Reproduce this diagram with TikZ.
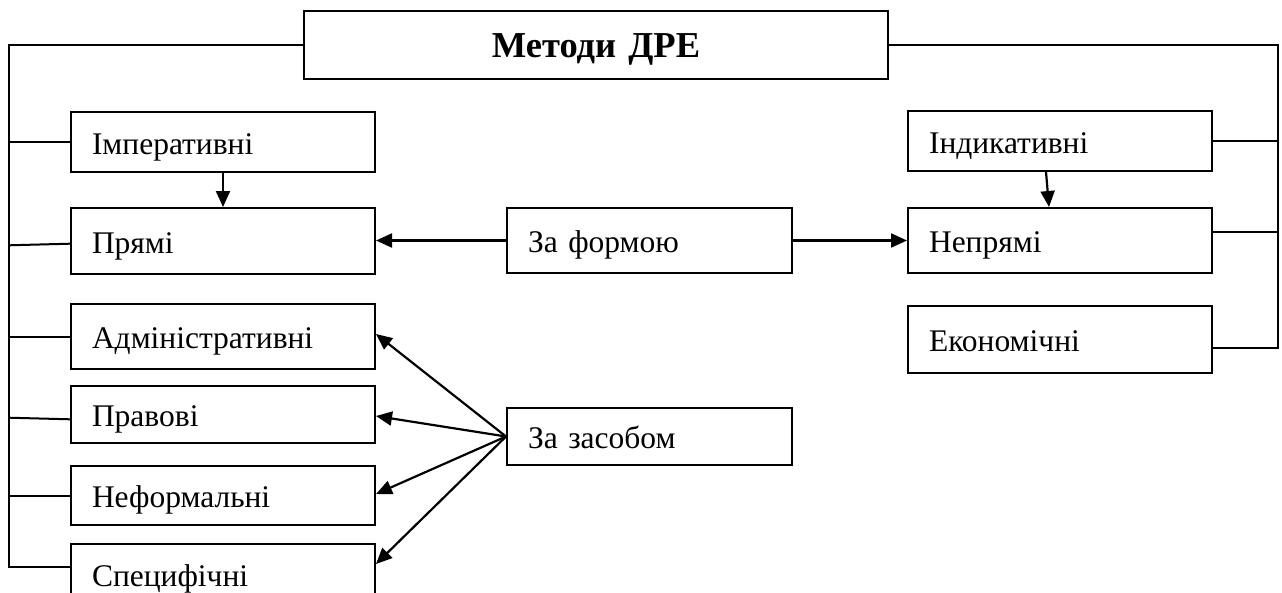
\documentclass[tikz,border=0pt]{standalone}
\usepackage{fontspec}
\setmainfont{Liberation Serif}
\usetikzlibrary{arrows.meta,calc}
\newcommand{\mytightsp}{\spaceskip=0.2em\relax}
\begin{document}
\begin{tikzpicture}[x=1pt,y=-1pt,
  box/.style={draw, line width=2pt, rectangle, anchor=north west,
    minimum width=304pt, text width=262pt, inner xsep=21pt, inner ysep=0pt,
    align=left, font=\fontsize{31.5}{36}\selectfont\mytightsp, text height=27pt, text depth=3pt},
  sbox/.style={box, minimum width=285pt, text width=243pt},
  tbox/.style={box, minimum width=584pt, text width=584pt, inner xsep=0pt, align=center,
    font=\fontsize{36.5}{40}\selectfont\bfseries\mytightsp, text height=30pt, text depth=6pt},
  wire/.style={line width=2pt},
  arr/.style={line width=2.2pt, -{Triangle[length=16pt,width=14pt]}}
]
\useasboundingbox[fill=white] (0,0) rectangle (1282,592);
% nodes
\node[tbox, minimum height=68pt] (title) at (303,10) {Методи ДРЕ};
\node[box, minimum height=60pt] (imp) at (70,111) {Імперативні};
\node[box, minimum height=66pt] (pryami) at (70,207) {Прямі};
\node[box, minimum height=65pt] (adm) at (70,303) {Адміністративні};
\node[box, minimum height=57pt] (prav) at (70,385) {Правові};
\node[box, minimum height=59pt] (neform) at (70,465) {Неформальні};
\node[box, minimum height=60pt] (spec) at (70,543) {Специфічні};
\node[box, minimum height=60pt] (ind) at (907,110) {Індикативні};
\node[box, minimum height=65pt] (nepr) at (907,207) {Непрямі};
\node[box, minimum height=67pt] (ekon) at (907,305) {Економічні};
\node[sbox, minimum height=65pt] (forma) at (506,207) {За формою};
\node[sbox, minimum height=57pt] (zasob) at (506,407) {За засобом};
% spines
\coordinate (lb) at (9,567);
\coordinate (rb) at (1278,348);
\draw[wire] (title.west) -| (lb) -- (lb -| spec.west);
\draw[wire] (imp.west) -- (imp.west -| lb);
\draw[wire] ($(pryami.west)+(0,2.7)$) -- ($(pryami.west -| lb)+(0,4.3)$);
\draw[wire] (adm.west) -- (adm.west -| lb);
\draw[wire] ($(prav.west)+(0,4.8)$) -- ($(prav.west -| lb)+(0,3.2)$);
\draw[wire] (neform.west) -- (neform.west -| lb);
\draw[wire] (title.east) -| (rb) -- (rb -| ekon.east);
\draw[wire] (ind.east) -- (ind.east -| rb);
\draw[wire] ($(nepr.east)+(0,-8.5)$) -- ($(nepr.east -| rb)+(0,-8.5)$);
% arrows
\draw[arr] (imp.south) -- (pryami.north);
\draw[arr] ($(ind.south)+(-14,0)$) -- ($(nepr.north)+(-11,0)$);
\draw[arr] (forma.west) -- (forma.west -| pryami.east);
\draw[arr] (forma.east) -- (forma.east -| nepr.west);
\draw[arr] (zasob.west) -- ($(adm.east)+(0,-2.5)$);
\draw[arr] (zasob.west) -- ($(prav.east)+(0,1.5)$);
\draw[arr] (zasob.west) -- ($(neform.east)+(0,-1.5)$);
\draw[arr] (zasob.west) -- ($(spec.east)+(0,-10)$);
\end{tikzpicture}
\end{document}
